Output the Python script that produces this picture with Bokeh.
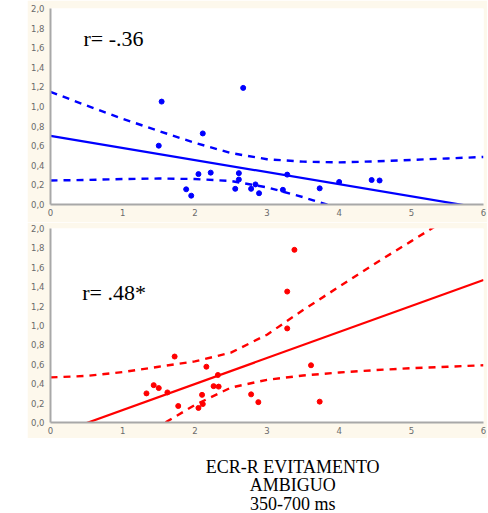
from bokeh.plotting import figure
from bokeh.layouts import column
from bokeh.models import FixedTicker, CustomJSTickFormatter, Label, Range1d
from bokeh.embed import file_html
from bokeh.resources import INLINE

# ---- data ----
x_ticks = [0, 1, 2, 3, 4, 5, 6]
y_ticks = [0.0, 0.2, 0.4, 0.6, 0.8, 1.0, 1.2, 1.4, 1.6, 1.8, 2.0]

top_x = [1.54, 1.50, 2.11, 2.67, 1.88, 1.95, 2.05, 2.22, 2.56, 2.61,
         2.61, 2.78, 2.84, 2.89, 3.22, 3.28, 3.73, 4.00, 4.45, 4.56]
top_y = [1.05, 0.60, 0.725, 1.19, 0.155, 0.09, 0.31, 0.325, 0.16, 0.255,
         0.32, 0.16, 0.205, 0.115, 0.15, 0.305, 0.165, 0.23, 0.25, 0.245]
top_fit_x = [0, 6]
top_fit_y = [0.70, -0.04]
top_up_x = [0, 0.5, 1, 1.5, 2, 2.5, 3, 3.5, 4, 4.5, 5, 5.5, 6]
top_up_y = [1.15, 1.01, 0.875, 0.75, 0.63, 0.525, 0.462, 0.437, 0.43, 0.44, 0.455, 0.47, 0.485]
top_lo_x = [0, 0.5, 1, 1.5, 2, 2.5, 3, 3.5, 4]
top_lo_y = [0.245, 0.25, 0.26, 0.265, 0.26, 0.24, 0.175, 0.075, -0.04]
top_r = "r= -.36"

bot_x = [1.72, 1.33, 1.43, 1.50, 1.62, 1.77, 2.16, 2.10, 2.11, 2.05,
         2.26, 2.33, 2.32, 2.78, 2.88, 3.38, 3.28, 3.28, 3.61, 3.73]
bot_y = [0.68, 0.30, 0.385, 0.355, 0.31, 0.17, 0.575, 0.285, 0.19, 0.15,
         0.375, 0.37, 0.49, 0.29, 0.21, 1.78, 1.35, 0.97, 0.59, 0.215]
bot_fit_x = [0, 6]
bot_fit_y = [-0.14, 1.47]
bot_up_x = [0, 0.5, 1, 1.5, 2, 2.5, 3, 3.5, 4, 4.5, 5, 5.5, 6]
bot_up_y = [0.465, 0.48, 0.52, 0.575, 0.63, 0.72, 0.905, 1.16, 1.40, 1.64, 1.87, 2.10, 2.34]
bot_lo_x = [1, 1.5, 2, 2.5, 3, 3.5, 4, 4.5, 5, 5.5, 6]
bot_lo_y = [-0.30, -0.04, 0.18, 0.36, 0.44, 0.485, 0.515, 0.54, 0.56, 0.575, 0.59]
bot_r = "r= .48*"

caption = ["ECR-R EVITAMENTO", "AMBIGUO", "350-700 ms"]

CREAM = "#fdf8ec"
AXIS_GRAY = "#a8a8a8"
LABEL_GRAY = "#6a6a6a"


def panel(xs, ys, fx, fy, ux, uy, lx, ly, rtext, color, height, top_border, bottom_border, rx, ry):
    p = figure(width=460, height=height, x_range=Range1d(0, 6), y_range=Range1d(0, 2),
               output_backend="svg", toolbar_location=None,
               min_border_left=23, min_border_right=4,
               min_border_top=top_border, min_border_bottom=bottom_border,
               margin=(0, 0, 0, 27))
    p.background_fill_color = "white"
    p.border_fill_color = CREAM
    p.outline_line_color = None
    p.grid.visible = False
    p.xaxis.ticker = FixedTicker(ticks=x_ticks)
    p.yaxis.ticker = FixedTicker(ticks=y_ticks)
    p.yaxis.formatter = CustomJSTickFormatter(code="return tick.toFixed(1).replace('.', ',');")
    for ax in (p.xaxis[0], p.yaxis[0]):
        ax.axis_line_color = AXIS_GRAY
        ax.axis_line_width = 2
        ax.major_tick_in = 0
        ax.major_tick_out = 0
        ax.minor_tick_line_color = None
        ax.major_label_text_font = "DejaVu Sans"
        ax.major_label_text_font_size = "8.5px"
        ax.major_label_text_color = LABEL_GRAY
    p.yaxis.major_label_standoff = 6
    p.xaxis.major_label_standoff = 4

    p.line(ux, uy, line_color=color, line_width=2.4, line_dash="7 6")
    p.line(lx, ly, line_color=color, line_width=2.4, line_dash="7 6")
    p.line(fx, fy, line_color=color, line_width=2.2)
    p.scatter(xs, ys, size=5, fill_color=color, line_color=color)
    p.add_layout(Label(x=rx, y=ry, text=rtext, text_font="Liberation Serif",
                       text_font_size="22px", text_color="black", text_baseline="alphabetic"))
    return p


p1 = panel(top_x, top_y, top_fit_x, top_fit_y, top_up_x, top_up_y, top_lo_x, top_lo_y,
           top_r, "#0000ff", 222, 8, 18, 0.457, 1.69)
p2 = panel(bot_x, bot_y, bot_fit_x, bot_fit_y, bot_up_x, bot_up_y, bot_lo_x, bot_lo_y,
           bot_r, "#ff0000", 216, 6, 16, 0.44, 1.343)

cap = figure(width=487, height=74, x_range=Range1d(0, 487), y_range=Range1d(0, 74),
             output_backend="svg", toolbar_location=None,
             min_border_left=0, min_border_right=0, min_border_top=0, min_border_bottom=0)
cap.axis.visible = False
cap.grid.visible = False
cap.outline_line_color = None
cap.background_fill_color = "white"
cap.border_fill_color = "white"
for txt, yy in zip(caption, [46, 27.7, 9]):
    cap.add_layout(Label(x=285, y=yy, text=txt, text_font="Liberation Serif",
                         text_font_size="18px", text_color="black",
                         text_align="center", text_baseline="alphabetic"))

layout = column(p1, p2, cap, spacing=0)
open("out.html", "w").write(file_html(layout, INLINE))
